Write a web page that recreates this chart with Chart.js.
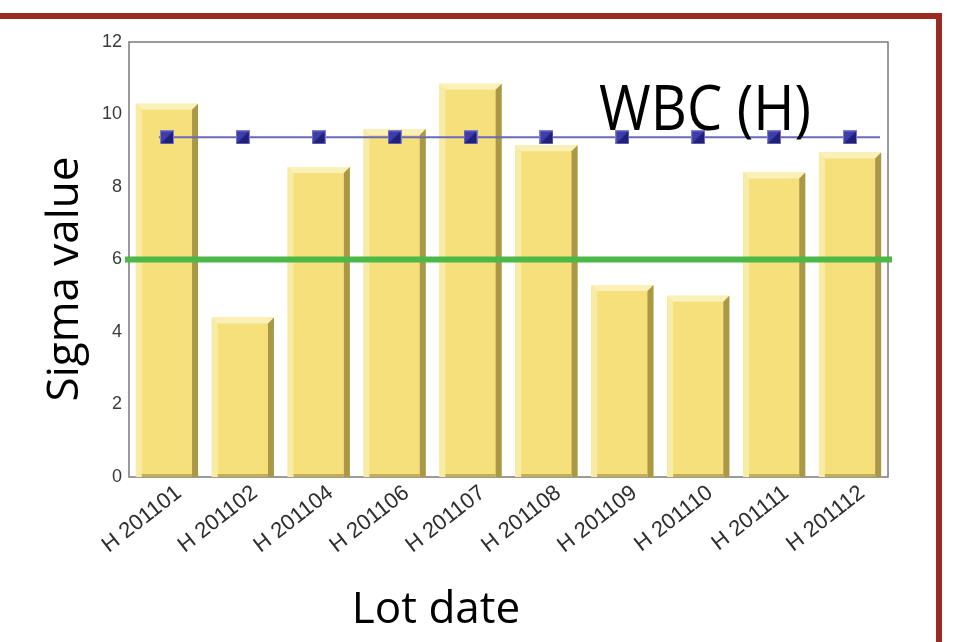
<!DOCTYPE html>
<html>
<head>
<meta charset="utf-8">
<title>WBC (H) sigma values by lot</title>
<script src="https://cdn.jsdelivr.net/npm/chart.js@4.4.1/dist/chart.umd.min.js"></script>
<style>
  html, body { margin: 0; padding: 0; background: #ffffff; overflow: hidden; }
  #wrap { position: relative; width: 957px; height: 642px; }
  #wrap canvas { position: absolute; left: 0; top: 0; }
  /* dark red slide frame: top rule and right rule */
  #frame {
    position: absolute; left: -10px; top: 13px; width: 946px; height: 700px;
    border-top: 6px solid #9b2a21; border-right: 6px solid #9b2a21;
    pointer-events: none;
  }
</style>
</head>
<body>
<div id="wrap">
  <canvas id="chart" width="957" height="642"></canvas>
  <div id="frame"></div>
</div>
<script>
// Lots and their sigma values
const lotDates = ['H 201101', 'H 201102', 'H 201104', 'H 201106', 'H 201107',
                  'H 201108', 'H 201109', 'H 201110', 'H 201111', 'H 201112'];
const sigmaValues = [10.3, 4.4, 8.55, 9.6, 10.85, 9.15, 5.3, 5.0, 8.4, 8.95];
// constant reference level drawn with square markers
const referenceSigma = [9.37, 9.37, 9.37, 9.37, 9.37, 9.37, 9.37, 9.37, 9.37, 9.37];
// six-sigma target line
const targetSigma = 6;
const yTickValues = [0, 2, 4, 6, 8, 10, 12];

const chartTitle = 'WBC (H)';
const yTitle = 'Sigma value';
const xTitle = 'Lot date';

// square marker with a darker lower-right half
function makeMarker() {
  const s = 14;
  const c = document.createElement('canvas');
  c.width = s; c.height = s;
  const g = c.getContext('2d');
  g.fillStyle = '#3d3dab';
  g.fillRect(0, 0, s, s);
  g.fillStyle = '#20207a';
  g.beginPath(); g.moveTo(s, 0); g.lineTo(s, s); g.lineTo(0, s); g.closePath(); g.fill();
  g.strokeStyle = '#8080c8';
  g.lineWidth = 1;
  g.strokeRect(0.5, 0.5, s - 1, s - 1);
  return c;
}

function poly(ctx, pts, color) {
  ctx.fillStyle = color;
  ctx.beginPath();
  ctx.moveTo(pts[0][0], pts[0][1]);
  for (let i = 1; i < pts.length; i++) ctx.lineTo(pts[i][0], pts[i][1]);
  ctx.closePath();
  ctx.fill();
}

// plot frame, bevelled bars, reference lines and text
const decorations = {
  id: 'decorations',
  beforeDatasetsDraw(chart) {
    const { ctx, chartArea: a } = chart;
    ctx.save();
    ctx.strokeStyle = '#7a7a7a';
    ctx.lineWidth = 1.5;
    ctx.strokeRect(a.left, a.top, a.right - a.left, a.bottom - a.top);
    ctx.restore();
  },
  afterDatasetDraw(chart, args) {
    const { ctx, chartArea: a, scales } = chart;
    if (args.meta.type !== 'bar') return;
    ctx.save();
    args.meta.data.forEach(bar => {
      const p = bar.getProps(['x', 'y', 'base', 'width'], true);
      const L = p.x - p.width / 2, R = p.x + p.width / 2, T = p.y, B = p.base;
      const d = 6;
      poly(ctx, [[L, T], [L + d, T + d], [L + d, B], [L, B]], '#f8eba6');
      poly(ctx, [[L, T], [R, T], [R - d, T + d], [L + d, T + d]], '#faf0b8');
      poly(ctx, [[R, T], [R, B], [R - d, B], [R - d, T + d]], '#a99847');
      poly(ctx, [[L + d, B - 3], [R - d, B - 3], [R - d, B], [L + d, B]], '#c2ae55');
    });
    // six-sigma target
    const yT = scales.y.getPixelForValue(targetSigma);
    ctx.strokeStyle = '#4cb848';
    ctx.lineWidth = 6;
    ctx.beginPath();
    ctx.moveTo(a.left - 4, yT);
    ctx.lineTo(a.right + 4, yT);
    ctx.stroke();
    // reference level line under the markers
    const pts = chart.getDatasetMeta(1).data;
    const yR = scales.y.getPixelForValue(referenceSigma[0]);
    ctx.strokeStyle = '#6a6ab8';
    ctx.lineWidth = 2;
    ctx.beginPath();
    ctx.moveTo(pts[0].x - 8, yR);
    ctx.lineTo(a.right - 8, yR);
    ctx.stroke();
    ctx.restore();
  },
  afterDraw(chart) {
    const { ctx } = chart;
    ctx.save();
    ctx.fillStyle = '#000000';
    ctx.font = '44px "Open Sans"';
    ctx.textAlign = 'center';
    ctx.textBaseline = 'alphabetic';
    ctx.fillText(xTitle, 436, 623);
    ctx.save();
    ctx.translate(78, 279);
    ctx.rotate(-Math.PI / 2);
    ctx.fillText(yTitle, 0, 0);
    ctx.restore();
    // heading, slightly tall letterforms
    ctx.save();
    ctx.translate(599, 130);
    ctx.scale(1, 1.1);
    ctx.textAlign = 'left';
    ctx.font = '56px "Open Sans"';
    ctx.fillText(chartTitle, 0, 0);
    ctx.restore();
    ctx.restore();
  }
};

new Chart(document.getElementById('chart'), {
  data: {
    labels: lotDates,
    datasets: [
      {
        type: 'bar',
        data: sigmaValues,
        backgroundColor: '#f5e07b',
        borderWidth: 0,
        categoryPercentage: 1,
        barPercentage: 0.82,
        order: 1
      },
      {
        type: 'line',
        data: referenceSigma,
        showLine: false,
        pointStyle: makeMarker(),
        pointRadius: 7,
        order: 0
      }
    ]
  },
  options: {
    responsive: false,
    animation: false,
    devicePixelRatio: 1,
    layout: { padding: { top: 42, right: 69, bottom: 0, left: 0 } },
    plugins: { legend: { display: false }, tooltip: { enabled: false } },
    scales: {
      x: {
        grid: { display: false, drawTicks: false },
        border: { display: false },
        ticks: {
          font: { family: 'Liberation Sans', size: 22 },
          color: '#2e2e2e',
          minRotation: 38,
          maxRotation: 38,
          labelOffset: 12,
          padding: 3
        },
        afterFit(s) { s.height = 165; }
      },
      y: {
        min: 0,
        max: 12,
        grid: { display: false, drawTicks: false },
        border: { display: false },
        afterBuildTicks(s) { s.ticks = yTickValues.map(v => ({ value: v })); },
        ticks: {
          font: { family: 'Liberation Sans', size: 18 },
          color: '#3a3a3a',
          padding: 7
        },
        afterFit(s) { s.width = 129; }
      }
    }
  },
  plugins: [decorations]
});
</script>
</body>
</html>
